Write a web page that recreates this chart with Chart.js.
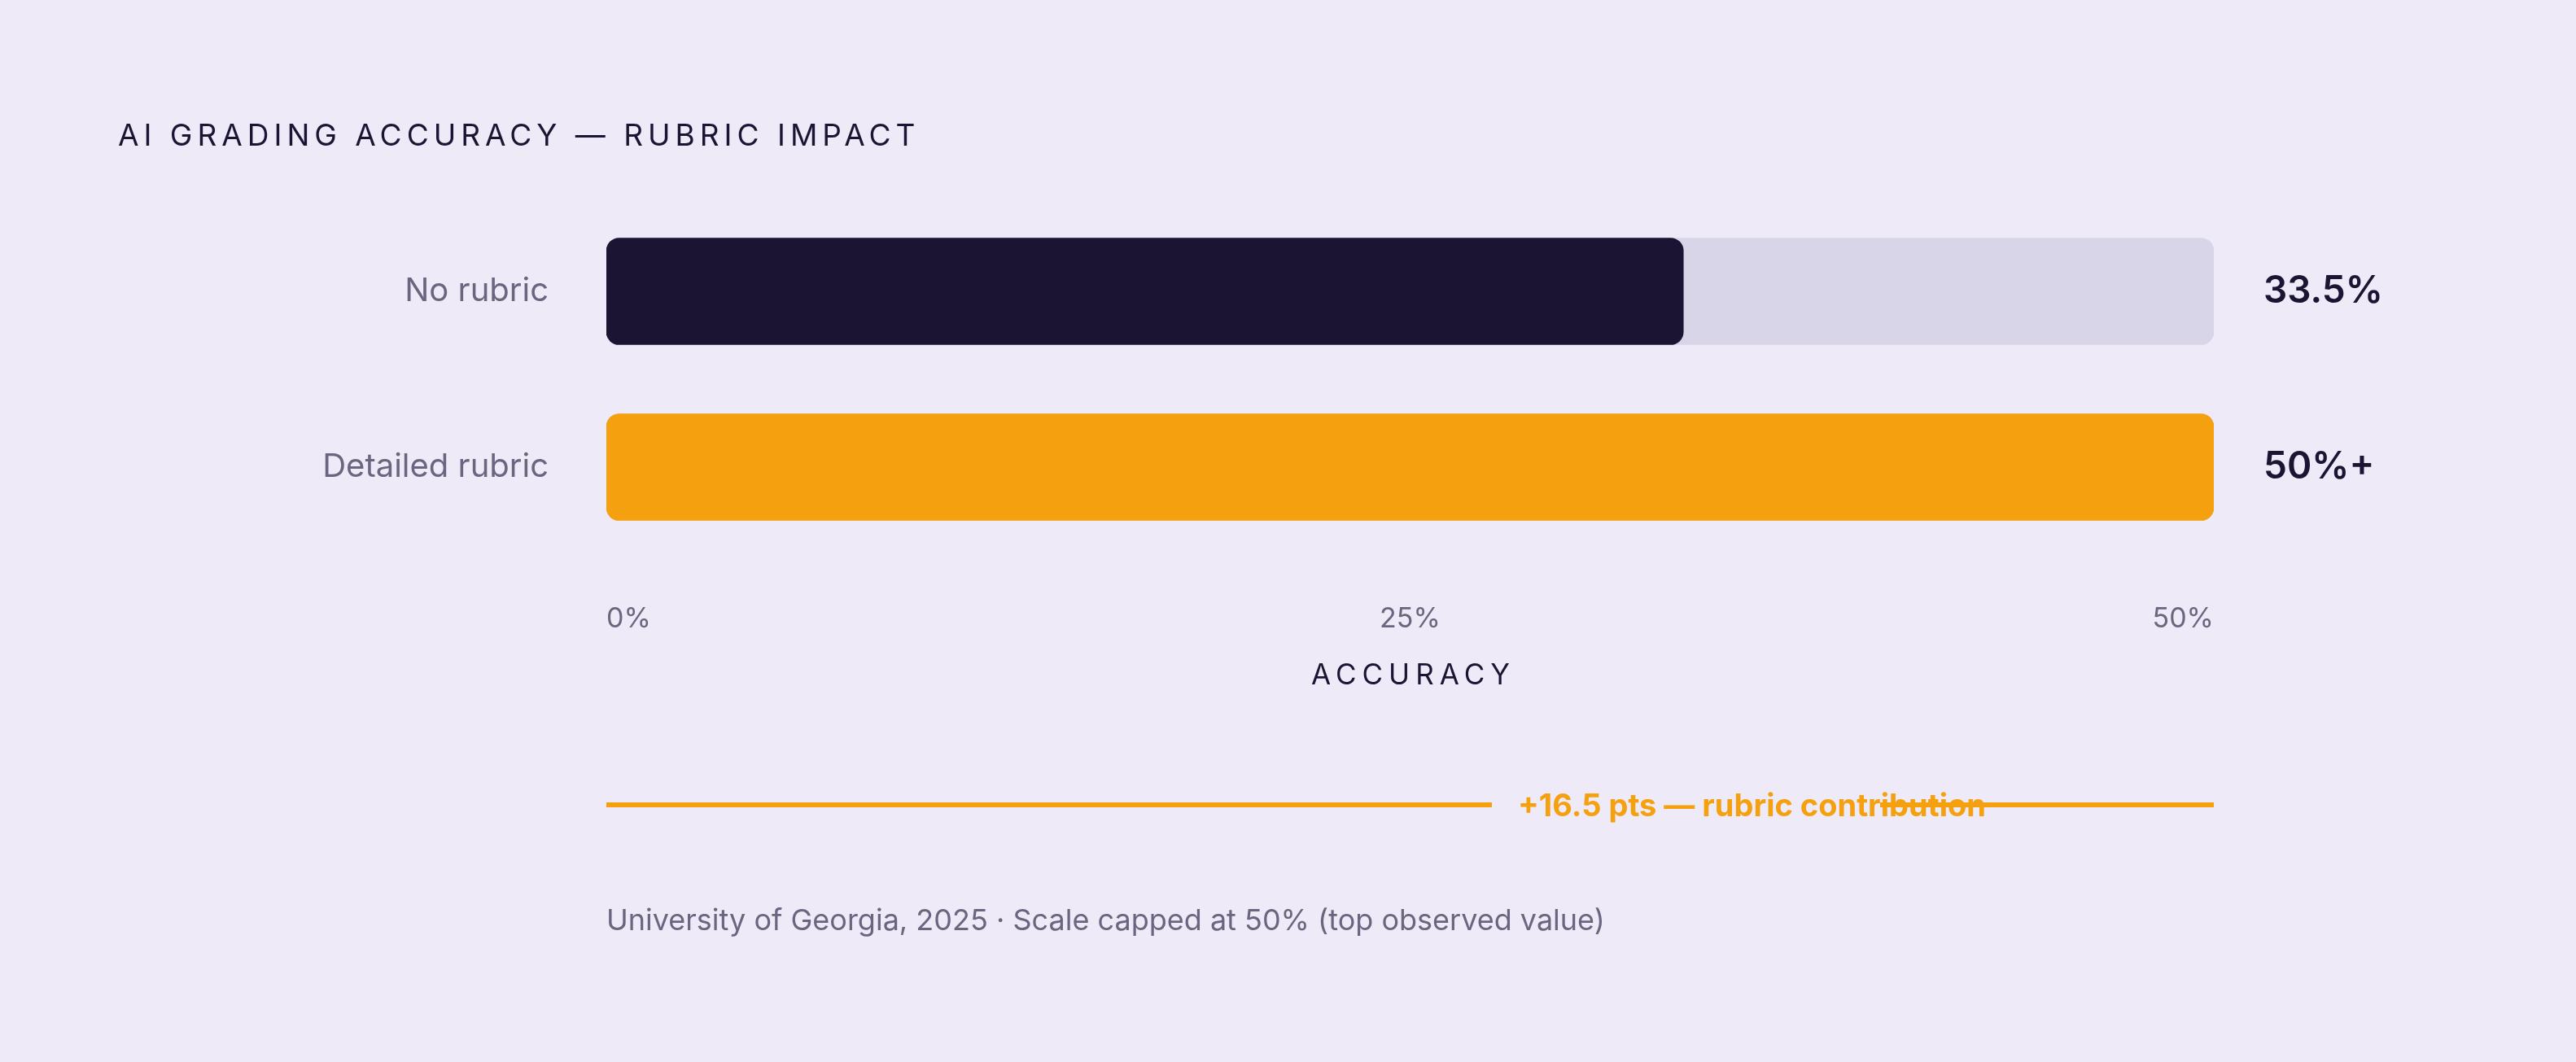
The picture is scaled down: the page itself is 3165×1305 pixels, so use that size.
<!DOCTYPE html>
<html><head><meta charset="utf-8">
<script src="https://cdn.jsdelivr.net/npm/chart.js@4"></script>
<style>
html,body{margin:0;padding:0;background:#EEEAF8;}
#wrap{width:3165px;height:1305px;position:relative;}
</style></head>
<body><div id="wrap"><canvas id="c"></canvas></div>
<script>
const categories = ["No rubric", "Detailed rubric"];
const accuracy = [33.5, 50];
const valueLabels = ["33.5%", "50%+"];
const track = [50, 50];
const xTicks = [0, 25, 50];
const barColors = ["#1B1533", "#F5A00E"];

const FONT = "Inter, 'DejaVu Sans', sans-serif";
const INK = "#1B1533", MUTED = "#6B6680", ORANGE = "#F5A00E";

const extras = {
    id: "extras",
    afterDraw(chart) {
        const ctx = chart.ctx, a = chart.chartArea, y = chart.scales.y;
        ctx.save();
        // value labels
        ctx.font = "600 46px " + FONT;
        ctx.fillStyle = INK;
        ctx.textBaseline = "middle";
        ctx.textAlign = "left";
        valueLabels.forEach((t, i) => ctx.fillText(t, a.right + 61, y.getPixelForValue(i)));
        // title
        ctx.letterSpacing = "6px";
        ctx.font = "400 37px " + FONT;
        ctx.fillText("AI GRADING ACCURACY — RUBRIC IMPACT", 145, 168);
        // axis title
        ctx.letterSpacing = "7px";
        ctx.font = "400 35px " + FONT;
        ctx.textAlign = "center";
        ctx.fillText("ACCURACY", (a.left + a.right) / 2 + 4, 830);
        ctx.letterSpacing = "0px";
        // difference line
        ctx.strokeStyle = ORANGE;
        ctx.lineWidth = 6;
        ctx.beginPath();
        ctx.moveTo(a.left, 989); ctx.lineTo(1833, 989);
        ctx.moveTo(2310, 989); ctx.lineTo(a.right, 989);
        ctx.stroke();
        ctx.fillStyle = ORANGE;
        ctx.font = "700 38px " + FONT;
        ctx.textAlign = "left";
        ctx.fillText("+" + (accuracy[1] - accuracy[0]).toFixed(1) + " pts — rubric contribution", 1865, 992);
        // footnote
        ctx.fillStyle = MUTED;
        ctx.font = "400 36px " + FONT;
        ctx.fillText("University of Georgia, 2025 · Scale capped at 50% (top observed value)", a.left, 1132);
        ctx.restore();
    }
};

new Chart(document.getElementById("c"), {
    type: "bar",
    data: {
        labels: categories,
        datasets: [
            { data: accuracy, backgroundColor: barColors, borderRadius: 16, borderSkipped: false, barThickness: 131, grouped: false },
            { data: track, backgroundColor: "#D9D5E8", borderRadius: 16, borderSkipped: false, barThickness: 131, grouped: false },
        ],
    },
    options: {
        indexAxis: "y",
        responsive: true,
        maintainAspectRatio: false,
        animation: false,
        layout: { padding: { top: 250, right: 445, bottom: 423, left: 0 } },
        plugins: { legend: { display: false }, tooltip: { enabled: false } },
        scales: {
            x: {
                min: 0, max: 50,
                afterFit: s => { s.height = 200; },
                afterBuildTicks: s => { s.ticks = xTicks.map(v => ({ value: v })); },
                grid: { display: false }, border: { display: false },
                ticks: { align: "inner", padding: 50, color: MUTED, font: { family: FONT, size: 34 }, callback: v => v + "%" },
            },
            y: {
                afterFit: s => { s.width = 745; },
                grid: { display: false }, border: { display: false },
                ticks: { padding: 63, color: MUTED, font: { family: FONT, size: 40 } },
            },
        },
    },
    plugins: [extras],
});
</script></body></html>
